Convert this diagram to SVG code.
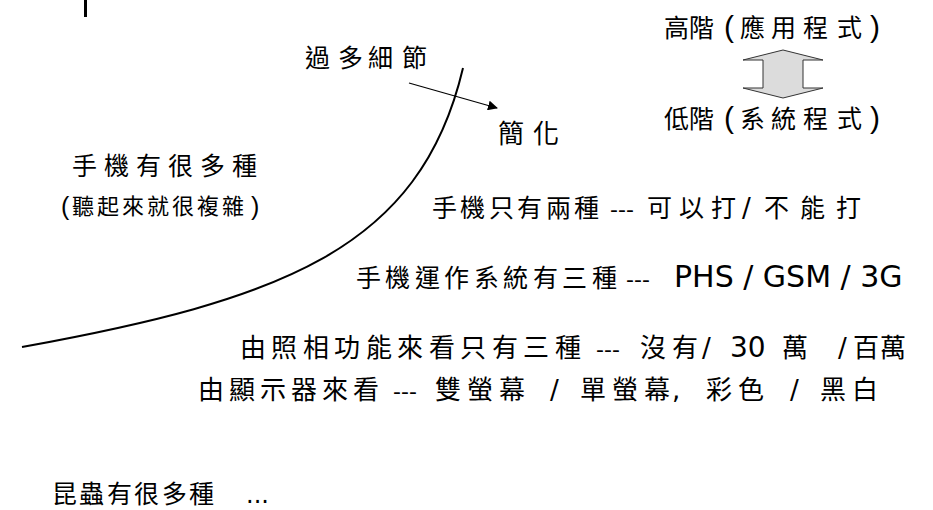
<svg xmlns="http://www.w3.org/2000/svg" width="933" height="510" viewBox="0 0 933 510">
<defs>
<style>
.k{font-family:"Noto Sans CJK TC","Noto Sans CJK SC",sans-serif;font-size:25px;fill:#000}
.s{font-family:"Noto Sans CJK TC",sans-serif;font-size:22px;fill:#000}
.l{font-family:"DejaVu Sans",sans-serif;font-size:22px;fill:#000}
.p{font-family:"Liberation Sans",sans-serif;font-size:30px;fill:#000}
.line{fill:none;stroke:#000;stroke-width:2}
</style>
<marker id="ah" viewBox="0 0 10 10" refX="9" refY="5" markerWidth="10" markerHeight="10" markerUnits="userSpaceOnUse" orient="auto">
<path d="M0,0 L10,5 L0,10 z" fill="#000"/>
</marker>
</defs>
<rect width="933" height="510" fill="#fff"/>
<rect x="84" y="0" width="3" height="17" fill="#000"/>
<g id="connectors">
<path class="line" d="M22,347 C280,300 420,250 463,68"/>
<line x1="409" y1="83" x2="497" y2="108" stroke="#000" stroke-width="1.2" marker-end="url(#ah)"/>
</g>
<g id="level-arrow">
<polygon points="783,50 823,60 803,60 803,88 823,88 783,98 743,88 763,88 763,60 743,60" fill="#dcdcdc" stroke="#333" stroke-width="1"/>
</g>
<g id="too-many-details"><text class="k" x="305 338 368 402" y="67">過多細節</text></g>
<g id="simplify"><text class="k" x="498 533" y="143" style="font-size:26px">簡化</text></g>
<g id="high-level">
<text class="k" x="664 689" y="37">高階</text>
<text class="p" x="724" y="37">(</text>
<text class="k" x="740 771 803 837" y="37">應用程式</text>
<text class="p" x="870" y="37">)</text>
</g>
<g id="low-level">
<text class="k" x="664 689" y="128">低階</text>
<text class="p" x="724" y="128">(</text>
<text class="k" x="740 771 803 837" y="128">系統程式</text>
<text class="p" x="870" y="128">)</text>
</g>
<g id="many-phones">
<text class="k" x="72 104 136 168 200 232" y="175">手機有很多種</text>
<text class="p" x="61" y="215" style="font-size:25px">(</text>
<text class="s" x="72 97 122 147 172 197 222" y="214">聽起來就很複雜</text>
<text class="p" x="251" y="215" style="font-size:25px">)</text>
</g>
<g id="line1">
<text class="k" x="432 460 489 517 546 574" y="217">手機只有兩種</text>
<text class="l" x="610" y="217">---</text>
<text class="k" x="647 679 711" y="217">可以打</text>
<text class="l" x="742" y="217" style="font-size:26px">/</text>
<text class="k" x="764 800 836" y="217">不能打</text>
</g>
<g id="line2">
<text class="k" x="356 385 415 444 474 503 533 562 592" y="287">手機運作系統有三種</text>
<text class="l" x="626" y="287">---</text>
<text class="l" x="674" y="287" style="font-size:30px">PHS / GSM / 3G</text>
</g>
<g id="line3">
<text class="k" x="240 271 303 334 366 397 429 460 492 523 555" y="357" style="font-size:26px">由照相功能來看只有三種</text>
<text class="l" x="596" y="357">---</text>
<text class="k" x="640 672" y="357" style="font-size:26px">沒有</text>
<text class="l" x="702" y="357" style="font-size:26px">/</text>
<text class="l" x="730" y="357" style="font-size:28px">30</text>
<text class="k" x="782" y="357" style="font-size:26px">萬</text>
<text class="l" x="838" y="357" style="font-size:26px">/</text>
<text class="k" x="853 880" y="357" style="font-size:26px">百萬</text>
</g>
<g id="line4">
<text class="k" x="198 229 260 291 322 353" y="399" style="font-size:26px">由顯示器來看</text>
<text class="l" x="393" y="399">---</text>
<text class="k" x="435 467 499" y="399" style="font-size:26px">雙螢幕</text>
<text class="l" x="550" y="399" style="font-size:26px">/</text>
<text class="k" x="580 612 644" y="399" style="font-size:26px">單螢幕</text>
<text class="l" x="672" y="399" style="font-size:26px">,</text>
<text class="k" x="706 738" y="399" style="font-size:26px">彩色</text>
<text class="l" x="790" y="399" style="font-size:26px">/</text>
<text class="k" x="820 852" y="399" style="font-size:26px">黑白</text>
</g>
<g id="insects">
<text class="k" x="52 79 107 134 162 189" y="503">昆蟲有很多種</text>
<text class="l" x="246" y="503" style="font-size:24px">...</text>
</g>
</svg>
